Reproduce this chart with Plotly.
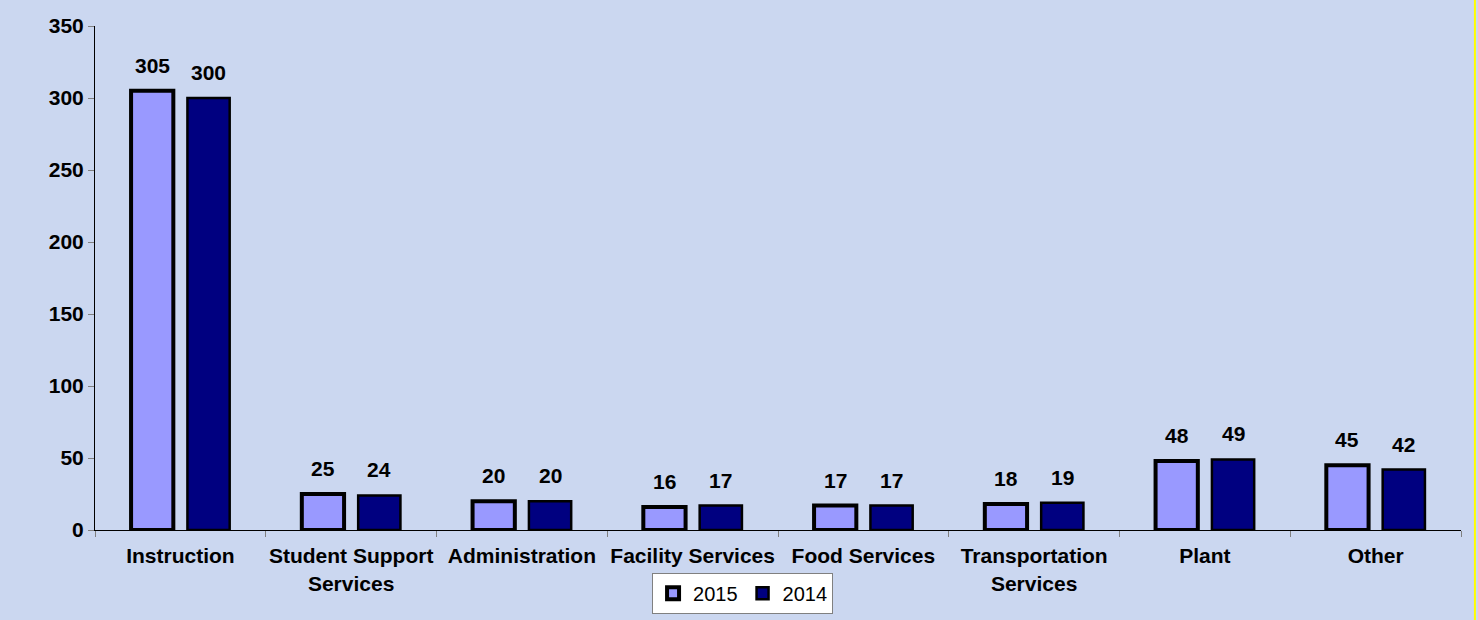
import plotly.graph_objects as go

categories = ["Instruction", "Student Support<br>Services", "Administration", "Facility Services",
              "Food Services", "Transportation<br>Services", "Plant", "Other"]
values_2015 = [305, 25, 20, 16, 17, 18, 48, 45]
values_2014 = [300, 24, 20, 17, 17, 19, 49, 42]
y_ticks = [0, 50, 100, 150, 200, 250, 300, 350]

FONT = "Liberation Sans, Arial, sans-serif"
WIDTH, HEIGHT = 1478, 620
MARGIN = dict(l=95, r=17, t=26, b=90, autoexpand=False)
BARGAP = 0.34

fig = go.Figure()

fig.add_trace(go.Bar(
    x=categories,
    y=values_2015,
    name="2015",
    marker=dict(color="#9999FF", line=dict(color="black", width=4)),
))

fig.add_trace(go.Bar(
    x=categories,
    y=values_2014,
    name="2014",
    marker=dict(color="#000080", line=dict(color="black", width=2.5)),
))

# value labels sit a bit higher above the bars than plotly's "outside" text
cat_px = (WIDTH - MARGIN["l"] - MARGIN["r"]) / len(categories)
offset = cat_px * (1 - BARGAP) / 4
for vals, sign in [(values_2015, -1), (values_2014, 1)]:
    for cat, v in zip(categories, vals):
        fig.add_annotation(
            x=cat, y=v, text=f"<b>{v}</b>", showarrow=False,
            xshift=sign * offset, yshift=12, yanchor="bottom",
            font=dict(family=FONT, size=21, color="black"),
        )

fig.update_layout(
    width=WIDTH,
    height=HEIGHT,
    margin=MARGIN,
    paper_bgcolor="#CBD7F0",
    plot_bgcolor="rgba(0,0,0,0)",
    barmode="group",
    bargap=BARGAP,
    bargroupgap=0.25,
    font=dict(family=FONT, color="black"),
    showlegend=True,
    legend=dict(
        orientation="h",
        x=0.4078,
        xanchor="left",
        y=-0.085,
        yanchor="top",
        bgcolor="white",
        bordercolor="#808080",
        borderwidth=1,
        font=dict(family=FONT, size=20, color="black"),
        itemwidth=30,
    ),
)

fig.update_xaxes(
    showline=True,
    linecolor="black",
    linewidth=1,
    ticks="outside",
    tickson="boundaries",
    ticklen=6,
    tickcolor="#808080",
    tickangle=0,
    ticklabelstandoff=7,
    automargin=False,
    tickfont=dict(family=FONT, size=21, color="black", weight="bold"),
    showgrid=False,
)

fig.update_yaxes(
    range=[0, 350],
    tickvals=y_ticks,
    showline=True,
    linecolor="black",
    linewidth=1,
    ticks="outside",
    ticklen=6,
    tickcolor="#808080",
    automargin=False,
    tickfont=dict(family=FONT, size=21, color="black", weight="bold"),
    showgrid=False,
    zeroline=False,
)

# thin yellow edge on the right of the image
fig.add_shape(type="line", xref="paper", yref="paper",
              x0=1.0102, x1=1.0102, y0=-0.2, y1=1.1,
              line=dict(color="#FFFF00", width=2))

fig.write_html("out.html", config={"displayModeBar": False},
               post_script="document.body.style.margin='0';")
